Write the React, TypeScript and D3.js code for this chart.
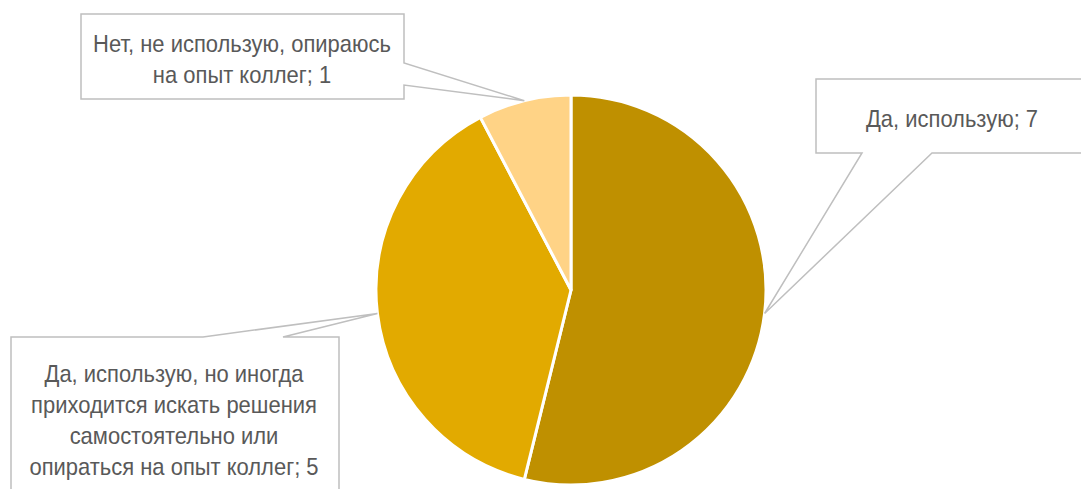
import React from "react";
import * as d3 from "d3";

const labels: string[][] = [
  ["Да, использую; 7"],
  ["Да, использую, но иногда", "приходится искать решения", "самостоятельно или", "опираться на опыт коллег; 5"],
  ["Нет, не использую, опираюсь", "на опыт коллег; 1"],
];
const values: number[] = [7, 5, 1];
const colors: string[] = ["#BF9000", "#E2AA00", "#FFD386"];

const W = 1081;
const H = 489;
const cx = 571;
const cy = 290;
const R = 195;
const FONT = "'Liberation Sans Narrow', 'Arial Narrow', 'Liberation Sans', Arial, sans-serif";

export default function App() {
  const pie = d3.pie<number>().sort(null).startAngle(0).endAngle(2 * Math.PI);
  const arcs = pie(values);
  const arc = d3.arc<d3.PieArcDatum<number>>().innerRadius(0).outerRadius(R);
  const edge = d3.arc<d3.PieArcDatum<number>>().innerRadius(R).outerRadius(R);
  const tips = arcs.map((a) => {
    const [x, y] = edge.centroid(a);
    return [cx + x, cy + y];
  });

  const boxes = [
    { x0: 816, y0: 79, x1: 1095, y1: 153, side: "bottom", w1: 862, w2: 932, tx: 952, ty: 127 },
    { x0: 11, y0: 337, x1: 339, y1: 505, side: "top", w1: 203, w2: 283, tx: 174, ty: 382 },
    { x0: 81, y0: 14, x1: 404, y1: 99, side: "right", w1: 63, w2: 85, tx: 242, ty: 52 },
  ];

  const calloutPath = (b: any, tip: number[]) => {
    const [px, py] = tip;
    if (b.side === "bottom") {
      return `M${b.x0},${b.y0}H${b.x1}V${b.y1}H${b.w2}L${px},${py}L${b.w1},${b.y1}H${b.x0}Z`;
    }
    if (b.side === "top") {
      return `M${b.x0},${b.y0}H${b.w1}L${px},${py}L${b.w2},${b.y0}H${b.x1}V${b.y1}H${b.x0}Z`;
    }
    return `M${b.x0},${b.y0}H${b.x1}V${b.w1}L${px},${py}L${b.x1},${b.w2}V${b.y1}H${b.x0}Z`;
  };

  const lineH = 31;

  return (
    <div style={{ position: "absolute", left: 0, top: 0, width: W, height: H, background: "#fff" }}>
      <svg width={W} height={H} style={{ display: "block" }}>
        <rect width={W} height={H} fill="#fff" />
        <g transform={`translate(${cx},${cy})`}>
          {arcs.map((a, i) => (
            <path key={i} d={arc(a) || ""} fill={colors[i]} stroke="#fff" strokeWidth={3} strokeLinejoin="round" />
          ))}
        </g>
        {boxes.map((b, i) => (
          <g key={i}>
            <path d={calloutPath(b, tips[i])} fill="#fff" stroke="#BFBFBF" strokeWidth={1.5} />
            <text
              transform={`translate(${b.tx},${b.ty}) scale(0.915,1)`}
              textAnchor="middle"
              fontFamily={FONT}
              fontSize={24}
              fill="#595959"
            >
              {labels[i].map((l, j) => (
                <tspan key={j} x={0} y={j * lineH}>
                  {l}
                </tspan>
              ))}
            </text>
          </g>
        ))}
      </svg>
    </div>
  );
}
